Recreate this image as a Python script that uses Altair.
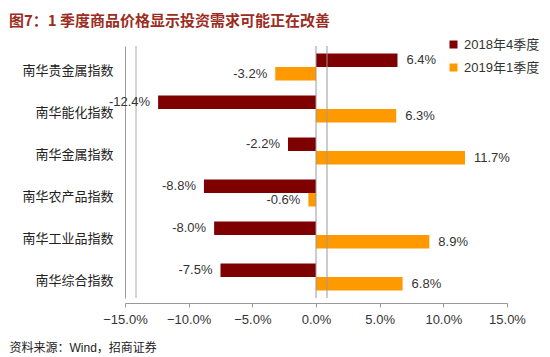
import altair as alt
import pandas as pd

categories = ["南华贵金属指数", "南华能化指数", "南华金属指数", "南华农产品指数", "南华工业品指数", "南华综合指数"]
series = ["2018年4季度", "2019年1季度"]
q4_2018 = [6.4, -12.4, -2.2, -8.8, -8.0, -7.5]
q1_2019 = [-3.2, 6.3, 11.7, -0.6, 8.9, 6.8]
x_ticks = [-15, -10, -5, 0, 5, 10, 15]
colors = ["#7F0000", "#FF9900"]

rows = []
for c, a, b in zip(categories, q4_2018, q1_2019):
    rows.append({"cat": c, "series": series[0], "value": a})
    rows.append({"cat": c, "series": series[1], "value": b})
df = pd.DataFrame(rows)
df["label"] = df["value"].map(lambda v: f"{v:.1f}%")

LATIN = "Liberation Sans, Noto Sans CJK SC"
CJK = "Noto Sans CJK SC"

y_enc = alt.Y(
    "cat:N", sort=categories,
    scale=alt.Scale(paddingInner=0.357, paddingOuter=0.18),
    axis=alt.Axis(title=None, ticks=False, labelPadding=12, labelOffset=4,
                  labelFontSize=13, labelColor="#222", labelFont=CJK,
                  domainColor="#999"),
)
yoff_enc = alt.YOffset("series:N", sort=series)
x_enc = alt.X(
    "value:Q",
    scale=alt.Scale(domain=[-15, 15], nice=False),
    axis=alt.Axis(values=x_ticks, labelExpr="format(datum.value,'.1f')+'%'",
                  grid=False, offset=5, domainColor="#999", tickColor="#999",
                  tickSize=4, labelFontSize=13, labelColor="#333", labelFont=LATIN,
                  labelPadding=6, labelOverlap=False, labelFlush=False,
                  title="资料来源：Wind，招商证券", titleX=-116, titleY=44,
                  titleAlign="left", titleBaseline="middle", titleFontSize=12,
                  titleFontWeight="normal", titleFont=LATIN, titleColor="#222"),
)

base = alt.Chart(df)

bars = base.mark_bar().encode(
    y=y_enc, yOffset=yoff_enc, x=x_enc,
    color=alt.Color("series:N", sort=series,
                    scale=alt.Scale(domain=series, range=colors),
                    legend=alt.Legend(title=None, orient="none", legendX=322, legendY=-8,
                                      symbolType="square", symbolSize=64,
                                      labelFontSize=13, labelFont=LATIN,
                                      labelColor="#333", rowPadding=9,
                                      symbolStrokeWidth=0)),
)

pos_text = base.transform_filter("datum.value >= 0").mark_text(
    align="left", baseline="middle", dx=9, fontSize=13, font=LATIN, color="#333"
).encode(y=y_enc, yOffset=yoff_enc, x=x_enc, text="label:N")

neg_text = base.transform_filter("datum.value < 0").mark_text(
    align="right", baseline="middle", dx=-8, fontSize=13, font=LATIN, color="#333"
).encode(y=y_enc, yOffset=yoff_enc, x=x_enc, text="label:N")

zero_df = pd.DataFrame({"z": [0]})
wall_df = pd.DataFrame({"z": [-15]})
front_zero = alt.Chart(zero_df).mark_rule(color="#999", strokeWidth=1).encode(x=alt.X("z:Q"))
back_zero = alt.Chart(zero_df).mark_rule(color="#999", strokeWidth=1, xOffset=11).encode(x=alt.X("z:Q"))
wall = alt.Chart(wall_df).mark_rule(color="#aaa", strokeWidth=1, xOffset=11).encode(x=alt.X("z:Q"))

chart = alt.layer(bars, wall, front_zero, back_zero, pos_text, neg_text).properties(
    width=382, height=252,
    autosize=alt.AutoSizeParams(type="none"),
    padding={"left": 117, "top": 38, "right": 35, "bottom": 59},
    title=alt.TitleParams(text="图7：1 季度商品价格显示投资需求可能正在改善",
                          anchor="start", frame="group", dx=-116, offset=9,
                          fontSize=15, font=CJK, fontWeight="bold", color="#9B2D1F"),
).configure_view(stroke=None)

chart.save("out.html", embed_options={"renderer": "svg", "actions": False})
